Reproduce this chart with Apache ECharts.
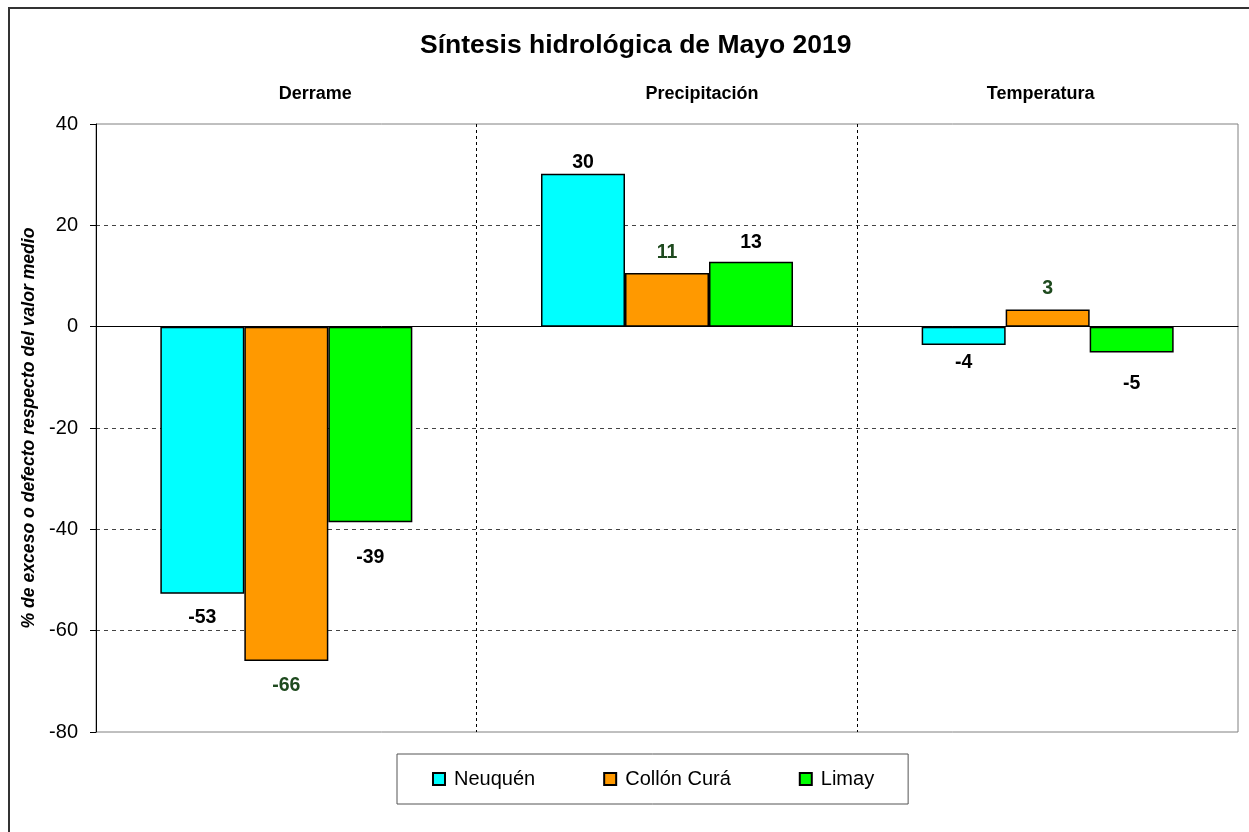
<!DOCTYPE html>
<html>
<head>
<meta charset="utf-8">
<title>Síntesis hidrológica de Mayo 2019</title>
<script src="https://cdn.jsdelivr.net/npm/echarts@6/dist/echarts.min.js"></script>
<style>
  html, body { margin: 0; padding: 0; background: #fff; }
  #chart { width: 1249px; height: 832px; }
</style>
</head>
<body>
<div id="chart"></div>
<script>
// valores (% respecto del valor medio)
const categories = ['Derrame', 'Precipitación', 'Temperatura']
const neuquen    = [-52.7, 30.2, -3.6]
const collonCura = [-66.0, 10.6, 3.4]
const limay      = [-38.6, 12.8, -5.1]
const yTicks     = { min: -80, max: 40, interval: 20 }

const SERIES = [
  { name: 'Neuquén',     data: neuquen,    color: '#00FFFF', labelColor: '#000' },
  { name: 'Collón Curá', data: collonCura, color: '#FF9900', labelColor: '#1E4A1E' },
  { name: 'Limay',       data: limay,      color: '#00FF00', labelColor: '#000' }
]
// distancia de cada etiqueta al extremo de la barra (px)
const LABEL_DIST = [[14, 1, 8], [15, 10, 11], [25, 9, 21]]

const FONT = 'Arial, "Liberation Sans", sans-serif'
const chart = echarts.init(document.getElementById('chart'))

chart.setOption({
  animation: false,
  title: {
    text: 'Síntesis hidrológica de Mayo 2019',
    left: 420, top: 32, padding: 0,
    textStyle: { fontFamily: FONT, fontSize: 26.5, fontWeight: 'bold', color: '#000' }
  },
  graphic: [{
    type: 'rect', silent: true,
    shape: { x: 9, y: 8, width: 1400, height: 1000 },
    style: { fill: 'none', stroke: '#333', lineWidth: 2 }
  }],
  legend: {
    left: 397, top: 754,
    padding: [15, 34, 15, 35],
    borderColor: '#555', borderWidth: 1,
    itemWidth: 12, itemHeight: 12, itemGap: 68,
    icon: 'rect',
    textStyle: { fontFamily: FONT, fontSize: 20, color: '#000', padding: [0, 0, 0, 4] }
  },
  grid: {
    left: 96, right: 11, top: 124, bottom: 100,
    show: true, borderColor: '#808080', borderWidth: 1, backgroundColor: '#fff'
  },
  xAxis: [{
    type: 'category',
    data: categories,
    axisLine: { onZero: true, lineStyle: { color: '#000', width: 1 } },
    axisTick: { show: false },
    axisLabel: { show: false },
    splitLine: {
      show: true, showMinLine: false, showMaxLine: false,
      lineStyle: { color: '#000', type: [3, 3], width: 1 }
    }
  }, {
    type: 'category',
    data: categories,
    position: 'top',
    axisLine: { show: false },
    axisTick: { show: false },
    axisLabel: {
      margin: 21,
      formatter: (v, i) => `{c${i}|${v}}`,
      rich: {
        c0: { fontFamily: FONT, fontSize: 18, fontWeight: 'bold', color: '#000', padding: [0, 0, 0, 58] },
        c1: { fontFamily: FONT, fontSize: 18, fontWeight: 'bold', color: '#000', padding: [0, 0, 0, 70] },
        c2: { fontFamily: FONT, fontSize: 18, fontWeight: 'bold', color: '#000', padding: [0, 14, 0, 0] }
      }
    }
  }],
  yAxis: {
    type: 'value',
    min: yTicks.min, max: yTicks.max, interval: yTicks.interval,
    name: '% de exceso o defecto respecto del valor medio',
    nameLocation: 'middle', nameGap: 55, nameRotate: 90,
    nameTextStyle: { fontFamily: FONT, fontSize: 17.6, fontWeight: 'bold', fontStyle: 'italic', color: '#000' },
    axisLine: { show: true, lineStyle: { color: '#000', width: 1 } },
    axisTick: { show: true, length: 6, lineStyle: { color: '#000' } },
    axisLabel: { fontFamily: FONT, fontSize: 20, color: '#000', margin: 18 },
    splitLine: {
      showMinLine: false, showMaxLine: false,
      lineStyle: { color: '#444', type: [4, 4], width: 1 }
    }
  },
  series: SERIES.map((s, i) => ({
    name: s.name,
    type: 'bar',
    barWidth: 84,
    barGap: '0%',
    itemStyle: { color: s.color, borderColor: '#000', borderWidth: 1.5 },
    label: {
      show: true,
      fontFamily: FONT, fontSize: 19.5, fontWeight: 'bold', color: s.labelColor,
      formatter: p => Math.round(p.value)
    },
    data: s.data.map((v, j) => ({
      value: v,
      label: { position: v < 0 ? 'bottom' : 'top', distance: LABEL_DIST[i][j] }
    }))
  }))
})

window.addEventListener('resize', () => chart.resize())
</script>
</body>
</html>
